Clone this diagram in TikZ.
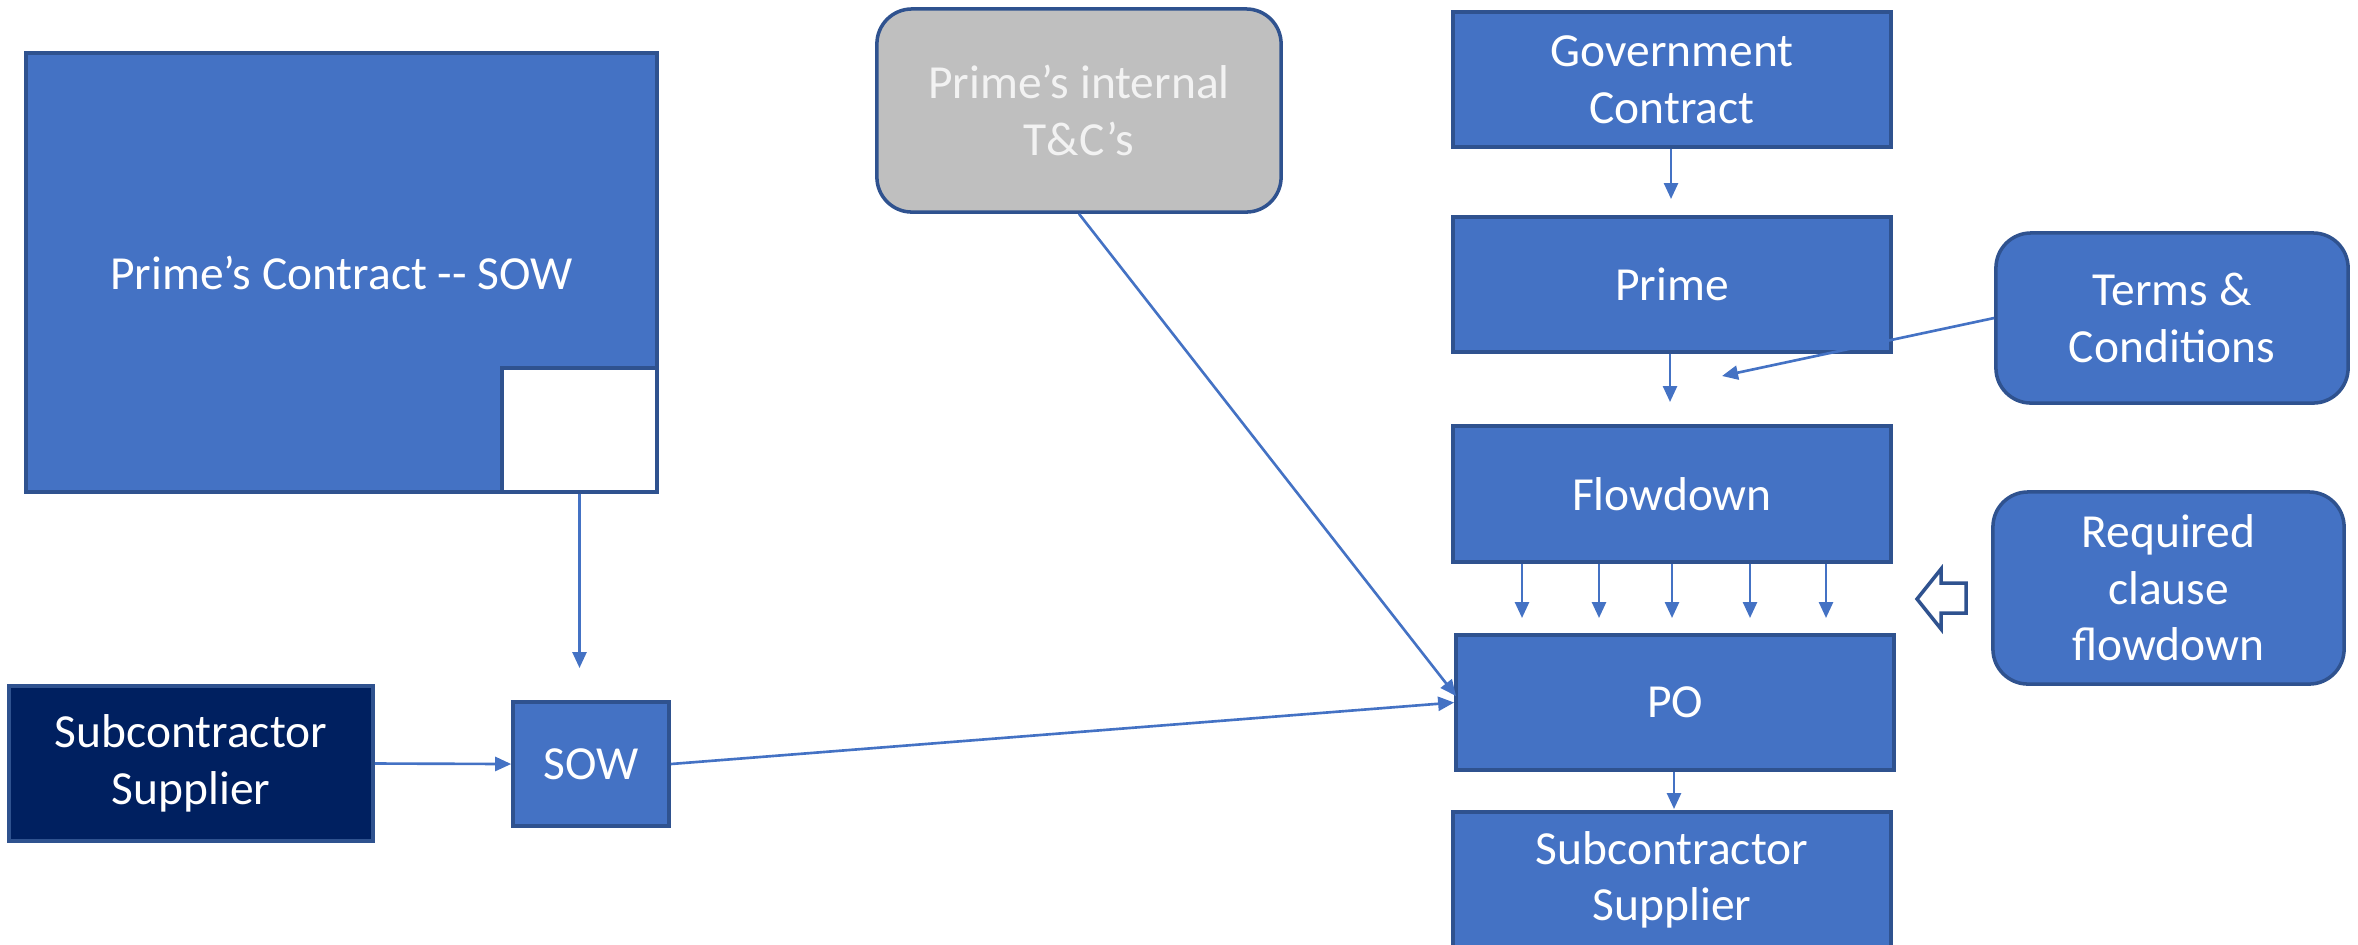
\documentclass[tikz,border=0pt]{standalone}
\usepackage{fontspec}
\setmainfont{Carlito}
\usetikzlibrary{arrows.meta}
\definecolor{fillblue}{HTML}{4472C4}
\definecolor{edgeblue}{HTML}{2F528F}
\definecolor{navyfill}{HTML}{002060}
\definecolor{greyfill}{HTML}{BFBFBF}
\definecolor{greytext}{HTML}{F2F2F2}
\begin{document}
\begin{tikzpicture}[x=0.01cm,y=-0.01cm,
  box/.style={draw=edgeblue, line width=1pt, fill=fillblue, text=white, align=center,
    font=\fontsize{13.5}{16.1}\selectfont, inner sep=0pt},
  rbox/.style={box, rounded corners=0.35cm},
  conn/.style={draw=fillblue, line width=0.75pt, -{Triangle[length=0.16cm,width=0.14cm]}},
]
\clip (0,0) rectangle (2358,944);
% left part
\node[box, minimum width=6.31cm, minimum height=4.39cm] (big) at (341.5,272.5) {Prime’s Contract -{}- SOW};
\node[draw=edgeblue, line width=1pt, fill=white, minimum width=1.55cm, minimum height=1.24cm, inner sep=0pt] (white) at (579.5,430) {};
\node[box, fill=navyfill, minimum width=3.64cm, minimum height=1.55cm] (navy) at (191,763.5) {Subcontractor\\Supplier};
\node[box, minimum width=1.56cm, minimum height=1.24cm] (sow) at (591,764) {SOW};
\node[rbox, fill=greyfill, text=greytext, minimum width=4.04cm, minimum height=2.03cm] (grey) at (1079,110.5) {Prime’s internal\\T\&C’s};
% right column
\node[box, minimum width=4.38cm, minimum height=1.35cm] (gov) at (1672,79.5) {Government\\Contract};
\node[box, minimum width=4.38cm, minimum height=1.35cm] (prime) at (1672,284.5) {Prime};
\node[box, minimum width=4.38cm, minimum height=1.36cm] (flow) at (1672,494) {Flowdown};
\node[box, minimum width=4.38cm, minimum height=1.35cm] (po) at (1675,702.5) {PO};
\node[box, minimum width=4.38cm, minimum height=1.36cm] (sub) at (1672,880) {Subcontractor\\Supplier};
\node[rbox, minimum width=3.52cm, minimum height=1.70cm] (tc) at (2172,318) {Terms \&\\Conditions};
\node[rbox, minimum width=3.51cm, minimum height=1.92cm] (req) at (2168.5,588) {Required\\clause\\flowdown};
% free ends
\coordinate (sowin) at (579.5,668);
\coordinate (poin) at (1456,696);
\coordinate (primein) at (1671,199);
\coordinate (flowin) at (1670,402);
\coordinate (tcend) at (1722,376);
\coordinate (subin) at (1674,809);
% connectors
\draw[conn] (white.south) -- (sowin);
\draw[conn] (navy.east) -- (sow.west);
\draw[conn] (sow.east) -- (po.west);
\draw[conn] (grey.south) -- (poin);
\draw[conn] (gov.south -| primein) -- (primein);
\draw[conn] (prime.south -| flowin) -- (flowin);
\draw[conn] (tc.west) -- (tcend);
\draw[conn] (po.south -| subin) -- (subin);
\foreach \x [count=\i] in {1522,1599,1672,1750,1826} {
  \coordinate (fa\i) at (\x,618);
  \draw[conn] (fa\i |- flow.south) -- (fa\i);
}
% hollow block arrow
\draw[draw=edgeblue, line width=1pt, fill=white, line join=miter]
  (1917,599) -- (1941,569) -- (1941,583) -- (1966,583) -- (1966,613) -- (1941,613) -- (1941,629) -- cycle;
\end{tikzpicture}
\end{document}
